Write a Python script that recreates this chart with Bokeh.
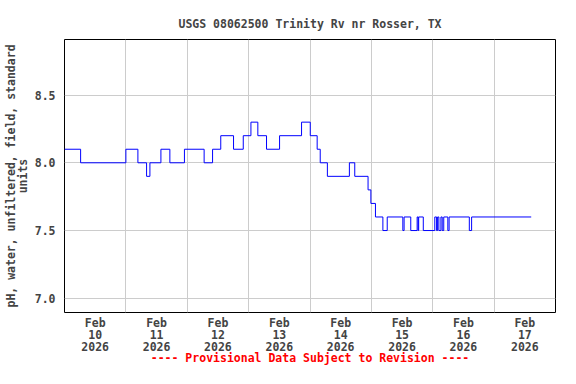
from bokeh.plotting import figure
from bokeh.models import ColumnDataSource, FixedTicker, PrintfTickFormatter, Range1d
from bokeh.embed import file_html
from bokeh.resources import INLINE

# Hours since 2026-02-10 00:00 at which the pH reading changes
hours = [0, 6.3, 24.0, 28.7, 32.1, 33.4, 37.7, 41.2, 46.9, 54.6,
         57.9, 61.1, 66.1, 69.9, 72.9, 75.6, 79.0, 84.1, 92.7, 96.1,
         98.8, 100.0, 102.8, 111.4, 113.5, 118.7, 119.8, 121.6, 124.5, 126.2,
         132.3, 132.8, 135.4, 137.9, 138.3, 138.5, 140.3, 144.8, 145.5, 145.9,
         146.4, 147.2, 147.7, 148.3, 149.9, 150.4, 158.3, 159.2, 182.5]
ph = [8.1, 8.0, 8.1, 8.0, 7.9, 8.0, 8.1, 8.0, 8.1, 8.0,
      8.1, 8.2, 8.1, 8.2, 8.3, 8.2, 8.1, 8.2, 8.3, 8.2,
      8.1, 8.0, 7.9, 8.0, 7.9, 7.8, 7.7, 7.6, 7.5, 7.6,
      7.5, 7.6, 7.5, 7.6, 7.5, 7.6, 7.5, 7.6, 7.5, 7.6,
      7.5, 7.6, 7.5, 7.6, 7.5, 7.6, 7.5, 7.6, 7.6]

day_labels = ["Feb\n10\n2026", "Feb\n11\n2026", "Feb\n12\n2026", "Feb\n13\n2026",
              "Feb\n14\n2026", "Feb\n15\n2026", "Feb\n16\n2026", "Feb\n17\n2026"]
label_hours = [12 + 24 * i for i in range(len(day_labels))]
midnight_hours = [24 * i for i in range(1, len(day_labels))]
y_ticks = [7.0, 7.5, 8.0, 8.5]

FONT = "DejaVu Sans Mono"
FS = "11.5px"

src = ColumnDataSource(data=dict(hours=hours, ph=ph))

p = figure(width=560, height=368, output_backend="svg", toolbar_location=None,
           x_range=Range1d(0, 192), y_range=Range1d(6.895, 8.91),
           min_border_left=64, min_border_right=5, min_border_top=39, min_border_bottom=56)

p.step(x="hours", y="ph", source=src, mode="after", line_color="#0000ff", line_width=1)

p.title.text = "USGS 08062500 Trinity Rv nr Rosser, TX"
p.title.align = "center"
p.title.text_font = FONT
p.title.text_font_size = FS
p.title.text_font_style = "bold"
p.title.standoff = 17

p.outline_line_color = "black"
p.outline_line_width = 1
p.outline_line_alpha = 1

# x axis
p.xaxis.ticker = FixedTicker(ticks=label_hours)
p.xaxis.major_label_overrides = {h: lab for h, lab in zip(label_hours, day_labels)}
p.xaxis.minor_tick_line_color = None
p.xaxis.major_tick_line_color = None
p.xaxis.major_tick_out = 0
p.xaxis.major_tick_in = 0
p.xaxis.minor_tick_out = 0
p.xaxis.axis_line_color = None
p.xaxis.major_label_text_font = FONT
p.xaxis.major_label_text_font_size = FS
p.xaxis.major_label_text_font_style = "bold"
p.xaxis.major_label_text_line_height = 0.88
p.xaxis.major_label_standoff = 3
p.xaxis.axis_label = "---- Provisional Data Subject to Revision ----"
p.xaxis.axis_label_text_color = "#ff0000"
p.xaxis.axis_label_text_font = FONT
p.xaxis.axis_label_text_font_size = FS
p.xaxis.axis_label_text_font_style = "bold"
p.xaxis.axis_label_standoff = -6
p.xgrid.ticker = FixedTicker(ticks=midnight_hours)
p.xgrid.grid_line_color = "#cccccc"
p.xgrid.grid_line_alpha = 1

# y axis
p.yaxis.ticker = FixedTicker(ticks=y_ticks)
p.yaxis.formatter = PrintfTickFormatter(format="%.1f")
p.yaxis.minor_tick_line_color = None
p.yaxis.major_tick_line_color = None
p.yaxis.major_tick_out = 0
p.yaxis.major_tick_in = 0
p.yaxis.minor_tick_out = 0
p.yaxis.axis_line_color = None
p.yaxis.major_label_text_font = FONT
p.yaxis.major_label_text_font_size = FS
p.yaxis.major_label_text_font_style = "bold"
p.yaxis.major_label_standoff = 9
p.yaxis.axis_label = "pH, water, unfiltered, field, standard\nunits"
p.yaxis.axis_label_text_font = FONT
p.yaxis.axis_label_text_font_size = FS
p.yaxis.axis_label_text_font_style = "bold"
p.yaxis.axis_label_text_line_height = 0.85
p.yaxis.axis_label_standoff = 2
p.ygrid.grid_line_color = "#cccccc"
p.ygrid.grid_line_alpha = 1

p.background_fill_color = "white"
p.border_fill_color = "white"

open("out.html", "w").write(file_html(p, INLINE))
